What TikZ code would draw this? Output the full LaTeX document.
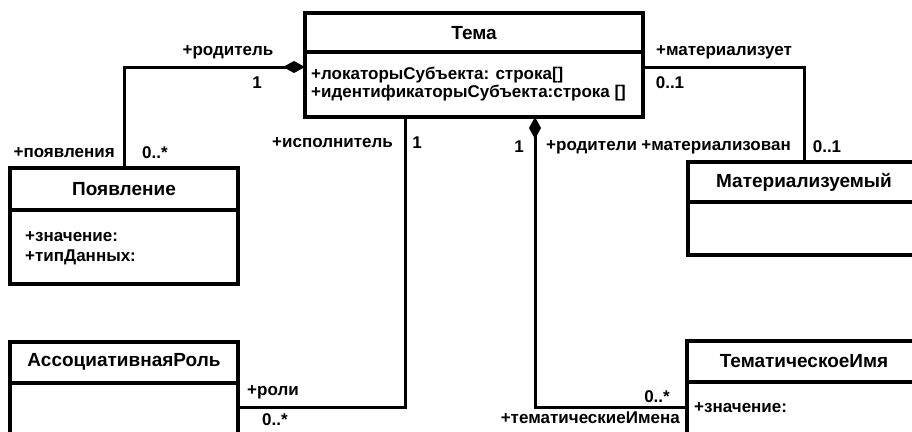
\documentclass[tikz,border=0pt]{standalone}
\usepackage{fontspec}
\setmainfont{Liberation Sans}
\usetikzlibrary{arrows.meta}
\newcommand\lblf{\fontsize{17}{19}\selectfont\bfseries}
\newcommand\ttlf{\fontsize{19}{21}\selectfont\bfseries}
\begin{document}
\begin{tikzpicture}[x=1pt,y=-1pt,
  cls/.style={draw, line width=3.5pt, inner sep=0pt, outer sep=0pt, anchor=north west},
  sepline/.style={line width=3.5pt},
  ttl/.style={font=\ttlf, inner sep=0pt},
  attr/.style={font=\lblf, inner sep=0pt, anchor=west},
  lbl/.style={font=\lblf, inner sep=0pt},
  conn/.style={line width=3pt},
  comp/.style={conn, {Diamond[length=22pt,width=12pt]}-}]
\useasboundingbox (0,0) rectangle (912,431);
\fill[white] (0,0) rectangle (912,431);
\clip (0,0) rectangle (912,431);

% class boxes
\node[cls, minimum width=338pt, minimum height=104pt] (tema) at (305,13) {};
\node[cls, minimum width=228pt, minimum height=116pt] (poyav) at (10,168) {};
\node[cls, minimum width=232pt, minimum height=93pt] (mat) at (688,162) {};
\node[cls, minimum width=228pt, minimum height=130pt] (assoc) at (10,342) {};
\node[cls, minimum width=233pt, minimum height=132pt] (tname) at (687,341) {};

% compartment separators
\draw[sepline] (tema.west |- 0,52) -- (tema.east |- 0,52);
\draw[sepline] (poyav.west |- 0,210) -- (poyav.east |- 0,210);
\draw[sepline] (mat.west |- 0,202) -- (mat.east |- 0,202);
\draw[sepline] (assoc.west |- 0,383) -- (assoc.east |- 0,383);
\draw[sepline] (tname.west |- 0,382) -- (tname.east |- 0,382);

% titles
\node[ttl] (temaT) at (474,33) {Тема};
\node[ttl] (poyavT) at (124,189) {Появление};
\node[ttl] (matT) at (804,182) {Материализуемый};
\node[ttl] (assocT) at (124,362) {АссоциативнаяРоль};
\node[ttl] (tnameT) at (804,361) {ТематическоеИмя};

% attributes
\node[attr] (temaA1) at (311,75) {+локаторыСубъекта: строка[]};
\node[attr] (temaA2) at (311,93) {+идентификаторыСубъекта:строка []};
\node[attr] (poyA1) at (25,237) {+значение:};
\node[attr] (poyA2) at (25,257) {+типДанных:};
\node[attr] (tnA1) at (694,408) {+значение:};

% connectors
\draw[comp] ([yshift=-2pt]tema.west) -| (poyav.north);
\draw[conn] ([yshift=-2pt]tema.east) -| (mat.north);
\draw[conn] ([xshift=-69pt]tema.south) |- (assoc.east);
\draw[comp] ([xshift=61pt]tema.south) |- (tname.west);

% association end labels
\node[lbl] (l1) at (228,52) {+родитель};
\node[lbl] (l2) at (257,83) {1};
\node[lbl, anchor=east] (l3) at (115,153) {+появления};
\node[lbl] (l4) at (155,153) {0..*};
\node[lbl, anchor=east] (l5) at (393,143) {+исполнитель};
\node[lbl] (l6) at (417,143) {1};
\node[lbl] (l7) at (273,392) {+роли};
\node[lbl] (l8) at (275,420) {0..*};
\node[lbl] (l9) at (519,147) {1};
\node[lbl, anchor=west] (l10) at (546,147) {+родители};
\node[lbl] (l11) at (657,397) {0..*};
\node[lbl, anchor=east] (l12) at (680,418) {+тематическиеИмена};
\node[lbl] (l13) at (724,52) {+материализует};
\node[lbl] (l14) at (670,83) {0..1};
\node[lbl, anchor=east] (l15) at (791,147) {+материализован};
\node[lbl] (l16) at (827,147) {0..1};
\end{tikzpicture}
\end{document}
